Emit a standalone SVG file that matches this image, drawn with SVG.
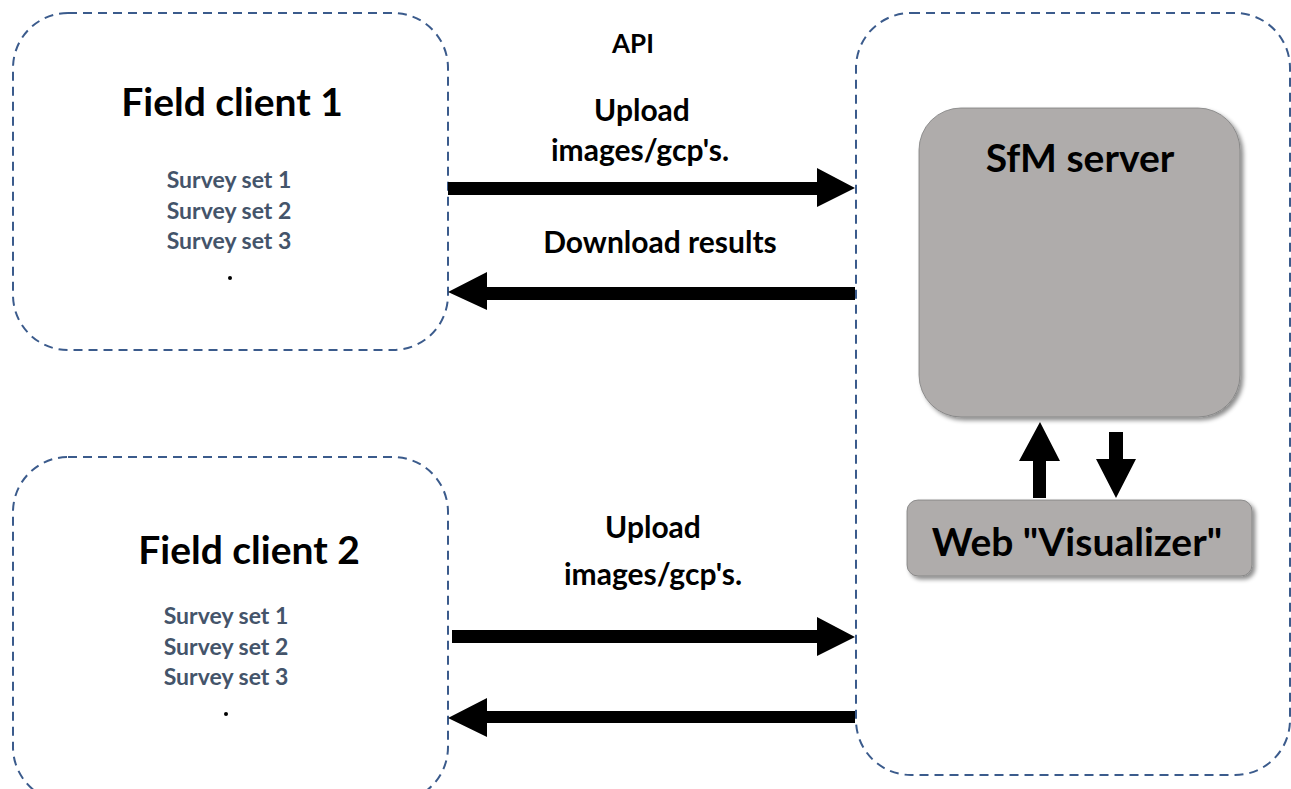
<svg xmlns="http://www.w3.org/2000/svg" width="1291" height="789" viewBox="0 0 1291 789">
<defs>
<style>
.dash{fill:none;stroke:#3b5b8c;stroke-width:2;stroke-dasharray:9 6}
.box{fill:#afacab;stroke:#7f7f7f;stroke-width:0.8}
.t{font-family:Lato,"Liberation Sans",sans-serif;font-weight:bold;fill:#000;text-anchor:middle}
.s{font-family:Lato,"Liberation Sans",sans-serif;font-weight:bold;fill:#44546a;text-anchor:middle;font-size:23px}
.arr{fill:#000}
</style>
<filter id="sh" x="-10%" y="-10%" width="130%" height="130%">
<feDropShadow dx="3" dy="3" stdDeviation="2" flood-color="#000" flood-opacity="0.45"/>
</filter>
</defs>
<g id="field-client-1">
<rect class="dash" x="13" y="13" width="435" height="337" rx="55"/>
<text class="t" x="232" y="116" font-size="39">Field client 1</text>
<text class="s" x="229" y="188">Survey set 1</text>
<text class="s" x="229" y="219">Survey set 2</text>
<text class="s" x="229" y="249">Survey set 3</text>
<circle cx="230" cy="278" r="2" fill="#000"/>
</g>
<g id="field-client-2">
<rect class="dash" x="13" y="457" width="435" height="345" rx="55"/>
<text class="t" x="249" y="564" font-size="39">Field client 2</text>
<text class="s" x="226" y="624">Survey set 1</text>
<text class="s" x="226" y="655">Survey set 2</text>
<text class="s" x="226" y="685">Survey set 3</text>
<circle cx="226" cy="714" r="2" fill="#000"/>
</g>
<g id="server-side">
<rect class="dash" x="856" y="13" width="434" height="762" rx="55"/>
</g>
<g id="sfm-server">
<rect class="box" x="919" y="108" width="321" height="309" rx="42" filter="url(#sh)"/>
<text class="t" x="1080" y="172" font-size="39">SfM server</text>
</g>
<g id="web-visualizer">
<rect class="box" x="907" y="500" width="345" height="76" rx="11" filter="url(#sh)"/>
<text class="t" x="1077" y="556" font-size="39">Web "Visualizer"</text>
</g>
<g id="labels">
<text class="t" x="633" y="53" font-size="26">API</text>
<text class="t" x="642" y="121" font-size="30">Upload</text>
<text class="t" x="640" y="161" font-size="30">images/gcp's.</text>
<text class="t" x="660" y="253" font-size="30">Download results</text>
<text class="t" x="653" y="538" font-size="30">Upload</text>
<text class="t" x="653" y="585" font-size="30">images/gcp's.</text>
</g>
<g id="connectors">
<polygon class="arr" points="448,182 817,182 817,168 855,188 817,207 817,195 448,195"/>
<polygon class="arr" points="855,287 487,287 487,272 448,292 487,310 487,300 855,300"/>
<polygon class="arr" points="452,630 817,630 817,617 855,637 817,656 817,643 452,643"/>
<polygon class="arr" points="855,711 487,711 487,698 448,718 487,737 487,723 855,723"/>
<polygon class="arr" points="1033,498 1033,461 1019,461 1040,422 1060,461 1046,461 1046,498"/>
<polygon class="arr" points="1109,432 1123,432 1123,459 1136,459 1116,498 1096,459 1109,459"/>
</g>
</svg>
